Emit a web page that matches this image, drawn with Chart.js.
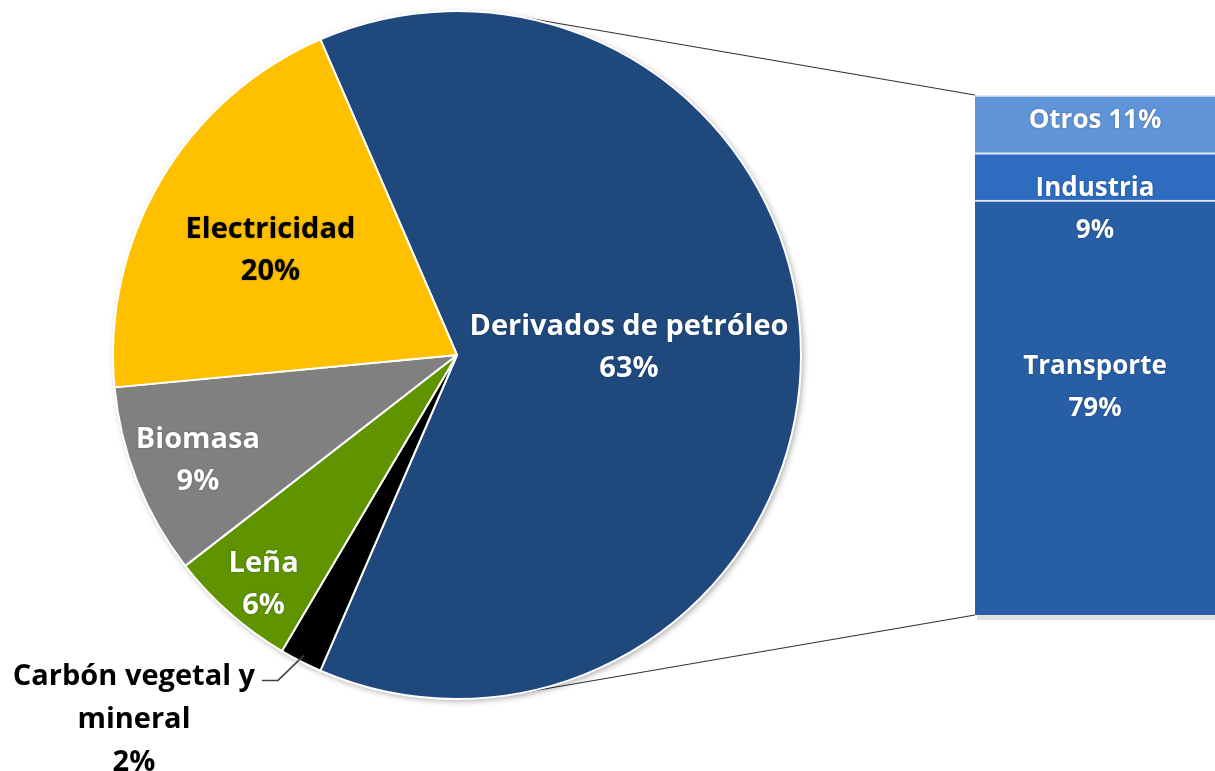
<!DOCTYPE html>
<html>
<head>
<meta charset="utf-8">
<script src="https://cdn.jsdelivr.net/npm/chart.js@4/dist/chart.umd.min.js"></script>
<style>
  body { margin: 0; background: #fff; overflow: hidden; }
  #wrap { position: relative; width: 1215px; height: 771px; overflow: hidden; }
  #links { position: absolute; left: 0; top: 0; }
  #pieBox { position: absolute; left: 0; top: 0; width: 914px; height: 771px; }
  #barBox { position: absolute; left: 975px; top: 95px; width: 240px; height: 520px; }
</style>
</head>
<body>
<div id="wrap">
  <canvas id="links" width="1215" height="771"></canvas>
  <div id="pieBox"><canvas id="pieChart"></canvas></div>
  <div id="barBox"><canvas id="barChart"></canvas></div>
</div>
<script>
// Pie data (consumo por fuente)
const pieLabels = ['Derivados de petróleo', 'Carbón vegetal y mineral', 'Leña', 'Biomasa', 'Electricidad'];
const pieValues = [63, 2, 6, 9, 20];
const pieColors = ['#1f497d', '#000000', '#5f9400', '#808080', '#ffc000'];

// Bar data (desglose de derivados de petróleo), bottom to top
const barLabels = ['Transporte', 'Industria', 'Otros'];
const barValues = [79, 9, 11];
const barColors = ['#285ea4', '#2d6cbf', '#5f95d8'];

const FONT = '"Open Sans", Lato, sans-serif';

// Label lines drawn on the pie
const pieText = [
    [pieLabels[0], pieValues[0] + '%'],
    ['Carbón vegetal y', 'mineral', pieValues[1] + '%'],
    [pieLabels[2], pieValues[2] + '%'],
    [pieLabels[3], pieValues[3] + '%'],
    [pieLabels[4], pieValues[4] + '%']
];
// radial position (fraction of radius) and small vertical nudge
const labelRadius = [0.5, 1, 0.85, 0.81, 0.63];
const labelShift = [-7, 0, 10, 3, 6];

const pieLabelPlugin = {
    id: 'pieLabels',
    afterDatasetsDraw(chart) {
        const ctx = chart.ctx;
        const arcs = chart.getDatasetMeta(0).data;
        ctx.save();
        ctx.font = 'bold 29px ' + FONT;
        ctx.textAlign = 'center';
        ctx.textBaseline = 'middle';
        arcs.forEach((arc, i) => {
            const mid = (arc.startAngle + arc.endAngle) / 2;
            if (i === 1) {
                // outside label with leader line
                const ex = arc.x + Math.cos(mid) * arc.outerRadius * 0.98;
                const ey = arc.y + Math.sin(mid) * arc.outerRadius * 0.98;
                ctx.strokeStyle = '#404040';
                ctx.lineWidth = 1.5;
                ctx.beginPath();
                ctx.moveTo(ex, ey);
                ctx.lineTo(ex - 26, ey + 25);
                ctx.lineTo(ex - 42, ey + 25);
                ctx.stroke();
                ctx.fillStyle = '#000';
                const cx = ex - 170;
                pieText[i].forEach((t, k) => ctx.fillText(t, cx, ey + 21 + k * 43));
                return;
            }
            const r = arc.outerRadius * labelRadius[i];
            const x = arc.x + Math.cos(mid) * r;
            const y = arc.y + Math.sin(mid) * r + labelShift[i];
            ctx.fillStyle = i === 4 ? '#000' : '#fff';
            ctx.shadowColor = 'rgba(0,0,0,0.35)';
            ctx.shadowBlur = 2;
            const lines = pieText[i];
            lines.forEach((t, k) => ctx.fillText(t, x, y + (k - (lines.length - 1) / 2) * 42));
            ctx.shadowBlur = 0;
        });
        ctx.restore();
    }
};

const pieShadow = {
    id: 'pieShadow',
    beforeDatasetsDraw(chart) {
        const arc = chart.getDatasetMeta(0).data[0];
        const ctx = chart.ctx;
        ctx.save();
        ctx.shadowColor = 'rgba(0,0,0,0.35)';
        ctx.shadowBlur = 6;
        ctx.shadowOffsetX = 2;
        ctx.shadowOffsetY = 2;
        ctx.fillStyle = '#fff';
        ctx.beginPath();
        ctx.arc(arc.x, arc.y, arc.outerRadius, 0, Math.PI * 2);
        ctx.fill();
        ctx.restore();
    }
};

const pieChart = new Chart(document.getElementById('pieChart'), {
    type: 'pie',
    data: {
        labels: pieLabels,
        datasets: [{
            data: pieValues,
            backgroundColor: pieColors,
            borderColor: '#ffffff',
            borderWidth: 2,
            hoverOffset: 0
        }]
    },
    options: {
        responsive: true,
        maintainAspectRatio: false,
        animation: false,
        rotation: -(pieValues[0] / 100 * 360) / 2 + 90,
        layout: { padding: { top: 10, bottom: 71, left: 10, right: 10 } },
        plugins: { legend: { display: false }, tooltip: { enabled: false } }
    },
    plugins: [pieShadow, pieLabelPlugin]
});

// Bar segment labels
const barText = [
    [barLabels[0], barValues[0] + '%'],
    [barLabels[1], barValues[1] + '%'],
    [barLabels[2] + ' ' + barValues[2] + '%']
];
const barLabelPlugin = {
    id: 'barLabels',
    afterDatasetsDraw(chart) {
        const ctx = chart.ctx;
        ctx.save();
        ctx.font = 'bold 26px ' + FONT;
        ctx.textAlign = 'center';
        ctx.textBaseline = 'middle';
        ctx.fillStyle = '#fff';
        ctx.shadowColor = 'rgba(0,0,0,0.35)';
        ctx.shadowBlur = 2;
        barText.forEach((lines, i) => {
            const el = chart.getDatasetMeta(i).data[0];
            const cy = (el.y + el.base) / 2;
            const off = i === 0 ? -20 : (i === 1 ? 33 : -3);
            lines.forEach((t, k) => ctx.fillText(t, el.x, cy + off + (k - (lines.length - 1) / 2) * 42));
        });
        ctx.restore();
    }
};

const barChart = new Chart(document.getElementById('barChart'), {
    type: 'bar',
    data: {
        labels: [''],
        datasets: barValues.map((v, i) => ({
            label: barLabels[i],
            data: [v],
            backgroundColor: barColors[i],
            borderColor: '#dce8f6',
            borderWidth: { top: 2, bottom: 0, left: 0, right: 0 },
            borderSkipped: false,
            barPercentage: 1,
            categoryPercentage: 1
        }))
    },
    options: {
        responsive: true,
        maintainAspectRatio: false,
        animation: false,
        layout: { padding: 0 },
        scales: {
            x: { display: false, stacked: true },
            y: { display: false, stacked: true, min: 0, max: 99 }
        },
        plugins: { legend: { display: false }, tooltip: { enabled: false } }
    },
    plugins: [barLabelPlugin]
});

// Connector lines: tangents from bar corners to the pie circle
function drawLinks() {
    const ctx = document.getElementById('links').getContext('2d');
    const arc = pieChart.getDatasetMeta(0).data[0];
    const top = barChart.getDatasetMeta(2).data[0];
    const bottom = barChart.getDatasetMeta(0).data[0];
    const box = document.getElementById('barBox');
    const ox = box.offsetLeft, oy = box.offsetTop;
    const left = ox + top.x - top.width / 2;
    const corners = [[left, oy + top.y, -1], [left, oy + bottom.base, 1]];
    ctx.fillStyle = 'rgba(0,0,0,0.12)';
    ctx.fillRect(left + 2, oy + bottom.base, 300, 5);
    ctx.strokeStyle = '#333';
    ctx.lineWidth = 1.2;
    corners.forEach(([px, py, s]) => {
        const dx = px - arc.x, dy = py - arc.y;
        const d = Math.hypot(dx, dy);
        const a = Math.atan2(dy, dx) + s * Math.acos(arc.outerRadius / d);
        ctx.beginPath();
        ctx.moveTo(arc.x + Math.cos(a) * arc.outerRadius, arc.y + Math.sin(a) * arc.outerRadius);
        ctx.lineTo(px, py);
        ctx.stroke();
    });
}
drawLinks();
</script>
</body>
</html>
